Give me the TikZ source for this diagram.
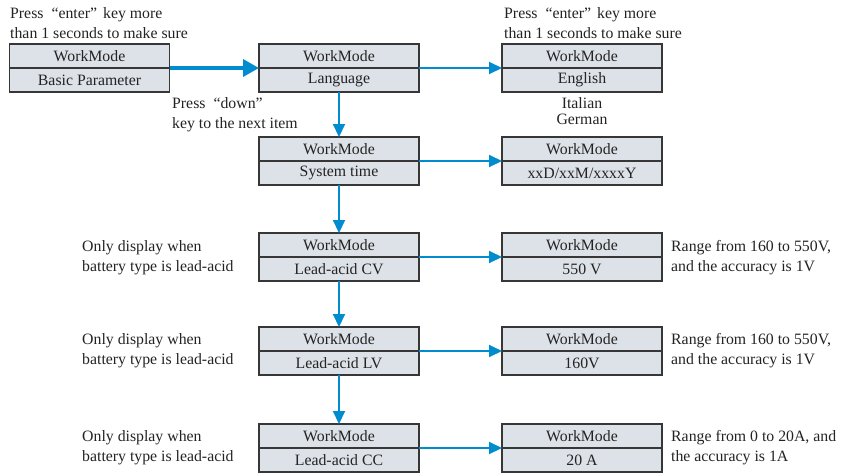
\documentclass[tikz,border=0pt]{standalone}
\usepackage{fontspec}
\setmainfont{Liberation Serif}
\usetikzlibrary{arrows.meta,positioning}
\definecolor{cellfill}{RGB}{221,225,232}
\definecolor{cellline}{RGB}{55,55,55}
\definecolor{arrblue}{RGB}{0,140,206}
\definecolor{txt}{RGB}{35,35,35}

\begin{document}
\begin{tikzpicture}[
    x=1pt,y=-1pt,
    cell/.style={rectangle,draw=cellline,line width=1.2pt,fill=cellfill,
                 minimum width=160pt,minimum height=24pt,inner sep=0pt,
                 outer sep=0pt,text=txt,font=\fontsize{15.8}{20}\selectfont},
    note/.style={align=left,inner sep=0pt,anchor=base west,text=txt,
                 font=\fontsize{15.8}{20}\selectfont},
    arr/.style={-{Triangle[length=13pt,width=12pt]},line width=2pt,arrblue},
    bigarr/.style={-{Triangle[length=16pt,width=17pt]},line width=3.4pt,arrblue}
  ]
    \useasboundingbox (0,0) rectangle (841,475);

    % first row
    \node[cell] (bp) at (89.5,56) {WorkMode};
    \node[cell,below=0pt of bp] (bp-v) {Basic Parameter};
    \node[cell,right=89.5pt of bp] (lang) {WorkMode};
    \node[cell,below=0pt of lang] (lang-v) {Language};
    \node[cell,right=83pt of lang] (eng) {WorkMode};
    \node[cell,below=0pt of eng] (eng-v) {English};

    % middle column
    \node[cell,below=45pt of lang-v] (time) {WorkMode};
    \node[cell,below=0pt of time] (time-v) {System time};
    \node[cell,below=48pt of time-v] (cv) {WorkMode};
    \node[cell,below=0pt of cv] (cv-v) {Lead-acid CV};
    \node[cell,below=46pt of cv-v] (lv) {WorkMode};
    \node[cell,below=0pt of lv] (lv-v) {Lead-acid LV};
    \node[cell,below=49pt of lv-v] (cc) {WorkMode};
    \node[cell,below=0pt of cc] (cc-v) {Lead-acid CC};

    % right column
    \node[cell,right=83pt of time] (date) {WorkMode};
    \node[cell,below=0pt of date] (date-v) {xxD/xxM/xxxxY};
    \node[cell,right=83pt of cv] (cvval) {WorkMode};
    \node[cell,below=0pt of cvval] (cvval-v) {550 V};
    \node[cell,right=83pt of lv] (lvval) {WorkMode};
    \node[cell,below=0pt of lvval] (lvval-v) {160V};
    \node[cell,right=83pt of cc] (ccval) {WorkMode};
    \node[cell,below=0pt of ccval] (ccval-v) {20 A};

    % notes (base = last line)
    \node[note] (enter1) at (10,38) {Press\hspace{8pt}“enter”\hspace{6pt}key more\\than 1 seconds to make sure};
    \node[note] (enter2) at (504,38) {Press\hspace{8pt}“enter”\hspace{6pt}key more\\than 1 seconds to make sure};
    \node[note] (down) at (172,128) {Press\hspace{8pt}“down”\\key to the next item};
    \node[note,align=center,anchor=base,
          font=\fontsize{15.8}{16}\selectfont] (langs) at (582,124) {Italian\\German};
    \node[note] (only1) at (82,271) {Only display when\\battery type is lead-acid};
    \node[note] (only2) at (82,364) {Only display when\\battery type is lead-acid};
    \node[note] (only3) at (82,461) {Only display when\\battery type is lead-acid};
    \node[note] (range1) at (671,271) {Range from 160 to 550V,\\and the accuracy is 1V};
    \node[note] (range2) at (671,364) {Range from 160 to 550V,\\and the accuracy is 1V};
    \node[note] (range3) at (671,461) {Range from 0 to 20A, and\\the accuracy is 1A};

    \draw[bigarr] (bp.south east) -- (lang.south west);
    \draw[arr] (lang.south east) -- (eng.south west);
    \draw[arr] (lang-v.south) -- (time.north);
    \draw[arr] (time.south east) -- (date.south west);
    \draw[arr] (time-v.south) -- (cv.north);
    \draw[arr] (cv.south east) -- (cvval.south west);
    \draw[arr] (cv-v.south) -- (lv.north);
    \draw[arr] (lv.south east) -- (lvval.south west);
    \draw[arr] (lv-v.south) -- (cc.north);
    \draw[arr] (cc.south east) -- (ccval.south west);
  \end{tikzpicture}
\end{document}
